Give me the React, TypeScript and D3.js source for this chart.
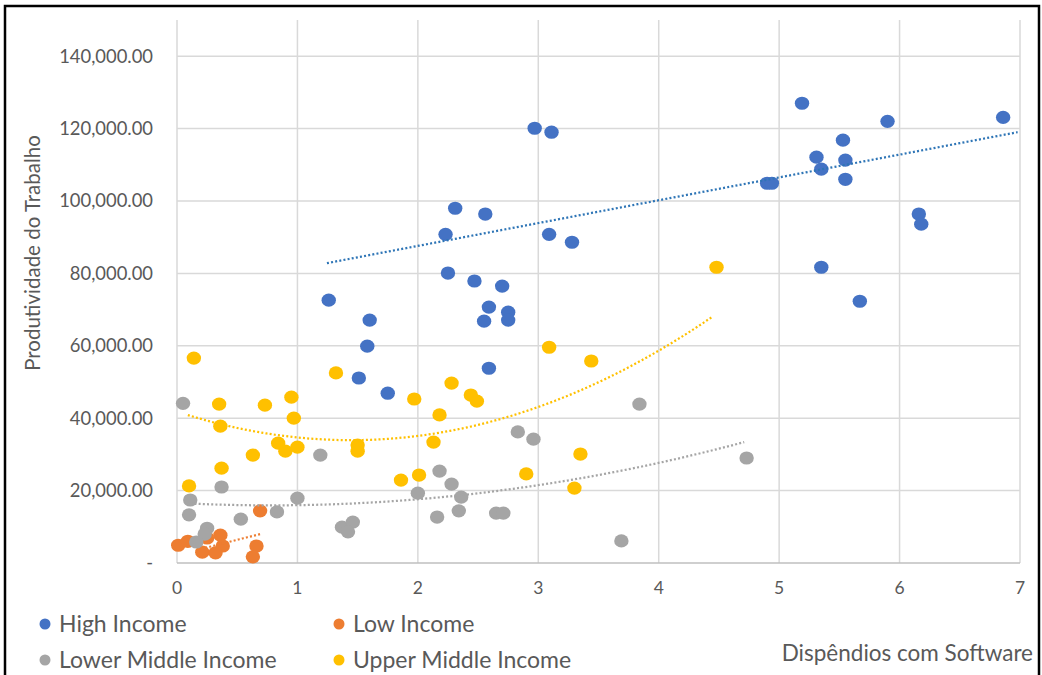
import React from "react";
import * as d3 from "d3";

// Scatter: software spending vs labour productivity, by income group
const seriesNames = ["High Income", "Low Income", "Lower Middle Income", "Upper Middle Income"];
const seriesColors = ["#4472C4", "#ED7D31", "#A5A5A5", "#FFC000"];
const trendColors = ["#2E75B6", "#ED7D31", "#A5A5A5", "#FFC000"];

const highX = [1.26, 1.60, 1.58, 1.51, 1.75, 2.97, 3.11, 2.31, 2.56, 2.23, 3.09, 3.28, 2.25, 2.47, 2.70, 2.59, 2.75, 2.75, 2.55, 2.59,
  5.19, 5.90, 6.86, 5.53, 5.31, 5.55, 5.35, 5.55, 4.90, 4.94, 6.16, 6.18, 5.35, 5.67];
const highY = [72600, 67100, 59900, 51100, 46900, 120100, 119000, 98000, 96400, 90800, 90800, 88600, 80100, 77900, 76500, 70700, 69300, 67100, 66800, 53800,
  127000, 122000, 123100, 116800, 112100, 111300, 108800, 106000, 104900, 104900, 96400, 93600, 81700, 72300];

const lowX = [0.01, 0.09, 0.25, 0.36, 0.38, 0.21, 0.32, 0.66, 0.63, 0.69];
const lowY = [4900, 6000, 6900, 7700, 4700, 3000, 2800, 4700, 1700, 14400];

const lowerMidX = [0.05, 0.37, 0.11, 0.10, 1.19, 1.00, 0.83, 0.53, 0.25, 0.23, 0.16, 1.37, 1.46, 1.42, 2.00, 2.18, 2.16, 3.84, 2.83, 2.96, 4.73, 2.28, 2.36, 2.34, 2.65, 2.71, 3.69];
const lowerMidY = [44100, 21000, 17400, 13300, 29800, 17900, 14100, 12100, 9600, 8000, 5800, 9900, 11300, 8600, 19300, 25400, 12700, 43900, 36200, 34200, 29000, 21800, 18200, 14400, 13800, 13800, 6100];

const upperMidX = [0.14, 0.10, 0.35, 0.36, 0.37, 0.63, 0.73, 0.84, 0.90, 0.95, 0.97, 1.00, 1.32, 1.50, 1.50, 1.86, 1.97, 2.01, 2.13, 2.18, 2.28, 2.44, 2.49, 2.90, 3.09, 3.30, 3.35, 3.44, 4.48];
const upperMidY = [56600, 21300, 43900, 37800, 26200, 29800, 43600, 33100, 30900, 45800, 40000, 32000, 52500, 32600, 30900, 22900, 45300, 24300, 33400, 40900, 49700, 46400, 44700, 24600, 59600, 20700, 30100, 55800, 81700];

// Trendline polynomial coefficients [c0, c1, c2] and x extents
const highTrend = [74980, 6307, 0];
const highTrendRange = [1.245, 6.98];
const lowTrend = [2200, 8400, 0];
const lowTrendRange = [0.2, 0.69];
const lowerMidTrend = [16606, -1761.5, 1131];
const lowerMidTrendRange = [0.075, 4.71];
const upperMidTrend = [41812, -10917, 3782];
const upperMidTrendRange = [0.09, 4.44];

const xTicks = [0, 1, 2, 3, 4, 5, 6, 7];
const yTicks = [0, 20000, 40000, 60000, 80000, 100000, 120000, 140000];

const xTitle = "Dispêndios com Software";
const yTitle = "Produtividade do Trabalho";

const W = 1042;
const H = 675;
const FONT = "Lato, 'Open Sans', sans-serif";
const TEXT = "#595959";

export default function App() {
  const x = d3.scaleLinear().domain([0, 7]).range([177, 1020]);
  const y = d3.scaleLinear().domain([0, 150000]).range([563, 20]);
  const fmt = d3.format(",.2f");

  const series = [
    { xs: highX, ys: highY, trend: highTrend, range: highTrendRange },
    { xs: lowX, ys: lowY, trend: lowTrend, range: lowTrendRange },
    { xs: lowerMidX, ys: lowerMidY, trend: lowerMidTrend, range: lowerMidTrendRange },
    { xs: upperMidX, ys: upperMidY, trend: upperMidTrend, range: upperMidTrendRange },
  ];

  const line = d3
    .line<[number, number]>()
    .x((d) => x(d[0]))
    .y((d) => y(d[1]));

  const trendPath = (c: number[], r: number[]) => {
    const n = 60;
    const pts: [number, number][] = d3.range(n + 1).map((i) => {
      const xv = r[0] + ((r[1] - r[0]) * i) / n;
      return [xv, c[0] + c[1] * xv + c[2] * xv * xv];
    });
    return line(pts) || "";
  };

  const legendPos = [
    [45, 624],
    [339, 624],
    [45, 660],
    [339, 660],
  ];

  return (
    <svg
      width={W}
      height={H}
      style={{ position: "absolute", left: 0, top: 0, background: "#fff" }}
      fontFamily={FONT}
    >
      <rect x={0} y={0} width={W} height={H} fill="#fff" />
      <rect x={5} y={6} width={1034} height={H} fill="none" stroke="#000" strokeWidth={2.5} />

      {/* gridlines */}
      {xTicks.map((t) => (
        <line key={"gx" + t} x1={x(t)} x2={x(t)} y1={y(150000)} y2={y(0)} stroke="#D9D9D9" strokeWidth={1.5} />
      ))}
      {yTicks.map((t) => (
        <line key={"gy" + t} x1={x(0)} x2={x(7)} y1={y(t)} y2={y(t)} stroke={t === 0 ? "#BFBFBF" : "#D9D9D9"} strokeWidth={1.5} />
      ))}

      {/* tick labels */}
      {yTicks.map((t) => (
        <text key={"ly" + t} x={153} y={y(t)} dy="0.35em" textAnchor="end" fontSize={18.4} fill={TEXT}>
          {t === 0 ? "-" : fmt(t)}
        </text>
      ))}
      {xTicks.map((t) => (
        <text key={"lx" + t} x={x(t)} y={594} textAnchor="middle" fontSize={17.5} fill={TEXT}>
          {t}
        </text>
      ))}

      {/* axis titles */}
      <text transform={`translate(40,${253}) rotate(-90)`} textAnchor="middle" fontSize={20.5} fill={TEXT}>
        {yTitle}
      </text>
      <text x={1033} y={661} textAnchor="end" fontSize={22.5} fill={TEXT}>
        {xTitle}
      </text>

      {/* points */}
      {series.map((s, si) =>
        s.xs.map((xv, i) => (
          <ellipse key={si + "-" + i} cx={x(xv)} cy={y(s.ys[i])} rx={7.2} ry={6.6} fill={seriesColors[si]} />
        ))
      )}

      {/* trendlines */}
      {series.map((s, si) => (
        <path
          key={"t" + si}
          d={trendPath(s.trend, s.range)}
          fill="none"
          stroke={trendColors[si]}
          strokeWidth={2.25}
          strokeDasharray="2 2.2"
        />
      ))}

      {/* legend */}
      {seriesNames.map((name, i) => (
        <g key={name}>
          <circle cx={legendPos[i][0]} cy={legendPos[i][1]} r={5.5} fill={seriesColors[i]} />
          <text x={legendPos[i][0] + 14} y={legendPos[i][1] + 7.5} fontSize={23} fill={TEXT}>
            {name}
          </text>
        </g>
      ))}
    </svg>
  );
}
